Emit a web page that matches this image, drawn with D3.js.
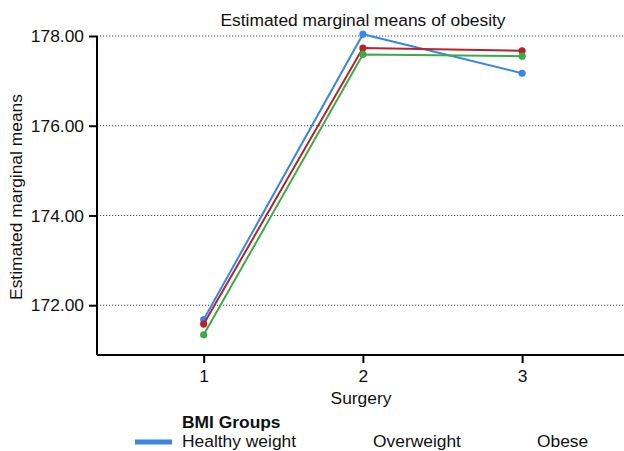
<!DOCTYPE html>
<html>
<head>
<meta charset="utf-8">
<script src="https://cdn.jsdelivr.net/npm/d3@7"></script>
<style>
  html, body { margin: 0; padding: 0; background: #fff; }
  svg { display: block; font-family: "Liberation Sans", Arial, Helvetica, sans-serif; }
</style>
</head>
<body>
<svg id="chart" width="624" height="451"></svg>
<script>
// Estimated marginal means of obesity by surgery and BMI group
const surgeries = [1, 2, 3];
const groups = ["Healthy weight", "Overweight", "Obese"];
const healthyWeight = [171.68, 178.04, 177.17];
const overweight = [171.58, 177.73, 177.67];
const obese = [171.34, 177.59, 177.55];
const yTicks = [172, 174, 176, 178];
const colors = ["#3a86e6", "#b6232c", "#3aab48"];

const seriesValues = [healthyWeight, overweight, obese];

const svg = d3.select("#chart");
const plotLeft = 97, plotRight = 624, plotTop = 36, plotBottom = 355;
const fontSize = 17.4;

const x = d3.scaleLinear().domain([0.33, 3.64]).range([plotLeft, plotRight]);
const y = d3.scaleLinear().domain([170.89, 178]).range([plotBottom, plotTop]);

// Horizontal dotted reference lines
svg.append("g").selectAll("line").data(yTicks).join("line")
  .attr("x1", plotLeft).attr("x2", plotRight)
  .attr("y1", d => y(d)).attr("y2", d => y(d))
  .attr("stroke", "#444").attr("stroke-width", 1)
  .attr("stroke-dasharray", "1.2,1.8");

// Y axis
const yAxis = svg.append("g").attr("transform", `translate(${plotLeft},0)`)
  .call(d3.axisLeft(y).tickValues(yTicks).tickFormat(d3.format(".2f")).tickSize(8).tickPadding(5));
yAxis.select(".domain").attr("d", `M0,${plotBottom}V${plotTop}`).attr("stroke", "#000").attr("stroke-width", 2);
yAxis.selectAll(".tick line").attr("stroke", "#000").attr("stroke-width", 2);
yAxis.selectAll(".tick text").attr("font-size", fontSize).attr("fill", "#111")
  .attr("font-family", "Liberation Sans, Arial, sans-serif");

// X axis
const xAxis = svg.append("g").attr("transform", `translate(0,${plotBottom})`)
  .call(d3.axisBottom(x).tickValues(surgeries).tickFormat(d3.format("d")).tickSize(8).tickPadding(7));
xAxis.select(".domain").attr("d", `M${plotLeft},0H${plotRight}`).attr("stroke", "#000").attr("stroke-width", 2);
xAxis.selectAll(".tick line").attr("stroke", "#000").attr("stroke-width", 2);
xAxis.selectAll(".tick text").attr("font-size", fontSize).attr("fill", "#111")
  .attr("font-family", "Liberation Sans, Arial, sans-serif");

// Series lines and points
const line = d3.line().x((d, i) => x(surgeries[i])).y(d => y(d));
seriesValues.forEach((vals, k) => {
  svg.append("path").datum(vals)
    .attr("d", line)
    .attr("fill", "none")
    .attr("stroke", colors[k])
    .attr("stroke-width", 2);
  svg.append("g").selectAll("circle").data(vals).join("circle")
    .attr("cx", (d, i) => x(surgeries[i]))
    .attr("cy", d => y(d))
    .attr("r", 3.6)
    .attr("fill", colors[k]);
});

// Titles
svg.append("text").attr("x", 363).attr("y", 26).attr("text-anchor", "middle")
  .attr("font-size", fontSize).attr("fill", "#111").text("Estimated marginal means of obesity");
svg.append("text").attr("x", 361).attr("y", 404).attr("text-anchor", "middle")
  .attr("font-size", fontSize).attr("fill", "#111").text("Surgery");
svg.append("text").attr("transform", "translate(22,197) rotate(-90)").attr("text-anchor", "middle")
  .attr("font-size", fontSize).attr("fill", "#111").text("Estimated marginal means");

// Legend
svg.append("text").attr("x", 182).attr("y", 428).attr("font-size", fontSize)
  .attr("font-weight", "bold").attr("fill", "#111").text("BMI Groups");
const legendX = [182, 373, 537];
svg.append("rect").attr("x", 135).attr("y", 439.5).attr("width", 37).attr("height", 5)
  .attr("fill", colors[0]);
svg.append("g").selectAll("text").data(groups).join("text")
  .attr("x", (d, i) => legendX[i]).attr("y", 447)
  .attr("font-size", fontSize).attr("fill", "#111").text(d => d);
</script>
</body>
</html>
